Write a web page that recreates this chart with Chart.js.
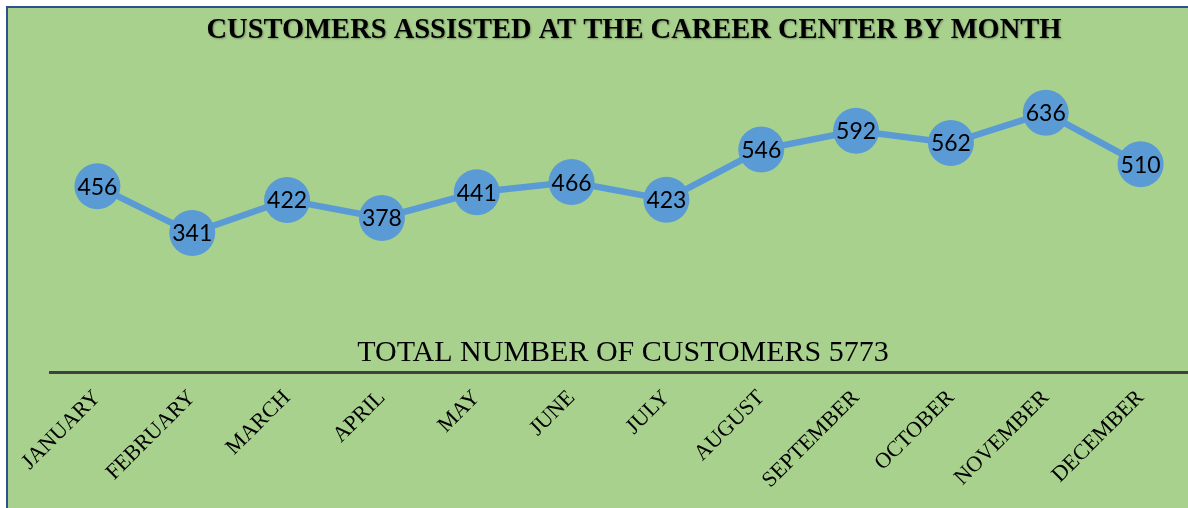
<!DOCTYPE html>
<html>
<head>
<meta charset="utf-8">
<script src="https://cdn.jsdelivr.net/npm/chart.js@4"></script>
<style>
  html, body { margin: 0; padding: 0; background: #ffffff; overflow: hidden; }
  #frame {
    position: absolute; left: 6px; top: 6px; width: 1182px; height: 502px;
    border-left: 2px solid #2f528f; border-top: 2px solid #2f528f;
    background: #a9d18e; box-sizing: border-box;
  }
  #wrap { position: absolute; left: 0; top: 0; width: 1180px; height: 500px; }
</style>
</head>
<body>
<div id="frame"><div id="wrap"><canvas id="c" width="1180" height="500"></canvas></div></div>
<script>
const months = ["JANUARY","FEBRUARY","MARCH","APRIL","MAY","JUNE","JULY","AUGUST","SEPTEMBER","OCTOBER","NOVEMBER","DECEMBER"];
const customers = [456, 341, 422, 378, 441, 466, 423, 546, 592, 562, 636, 510];
const titleText = "CUSTOMERS ASSISTED AT THE CAREER CENTER BY MONTH";
const totalText = "TOTAL NUMBER OF CUSTOMERS 5773";

const textPlugin = {
  id: 'texts',
  afterDatasetsDraw(chart) {
    const ctx = chart.ctx;
    const meta = chart.getDatasetMeta(0);
    ctx.save();
    ctx.fillStyle = '#000';
    ctx.textAlign = 'center';
    ctx.textBaseline = 'middle';
    ctx.font = "23px Lato";
    meta.data.forEach((pt, i) => {
      ctx.fillText(String(customers[i]), pt.x, pt.y + 1);
    });
    ctx.restore();
  },
  afterDraw(chart) {
    const ctx = chart.ctx;
    ctx.save();
    ctx.fillStyle = '#000';
    ctx.textAlign = 'center';
    ctx.textBaseline = 'middle';
    ctx.shadowColor = 'rgba(0,0,0,0.3)';
    ctx.shadowBlur = 2;
    ctx.shadowOffsetX = 1;
    ctx.shadowOffsetY = 1;
    ctx.font = "bold 28.5px 'Liberation Serif'";
    ctx.fillText(titleText, 626, 23);
    ctx.shadowColor = 'rgba(0,0,0,0)';
    ctx.font = "30px 'Liberation Serif'";
    ctx.fillText(totalText, 615, 345);
    ctx.restore();
  }
};

new Chart(document.getElementById('c'), {
  type: 'line',
  data: {
    labels: months,
    datasets: [{
      data: customers,
      borderColor: '#5b9bd5',
      backgroundColor: '#5b9bd5',
      borderWidth: 6.5,
      pointRadius: 23,
      pointHoverRadius: 23,
      pointBorderWidth: 0,
      tension: 0,
      clip: false
    }]
  },
  options: {
    responsive: false,
    animation: false,
    events: [],
    layout: { autoPadding: false, padding: { left: 42, right: 0, top: 38, bottom: 0 } },
    plugins: { legend: { display: false }, title: { display: false }, tooltip: { enabled: false } },
    scales: {
      x: {
        offset: true,
        grid: { display: false, drawTicks: false },
        border: { display: true, color: '#404040', width: 3 },
        ticks: {
          minRotation: 45, maxRotation: 45, autoSkip: false,
          padding: 13,
          color: '#000',
          font: { family: "'Liberation Serif'", size: 22 }
        },
        afterFit(scale) {
          scale.height = 136;
          scale.paddingLeft = 0;
          scale.paddingRight = 0;
        }
      },
      y: {
        display: false,
        min: 0, max: 800
      }
    }
  },
  plugins: [textPlugin]
});
</script>
</body>
</html>
